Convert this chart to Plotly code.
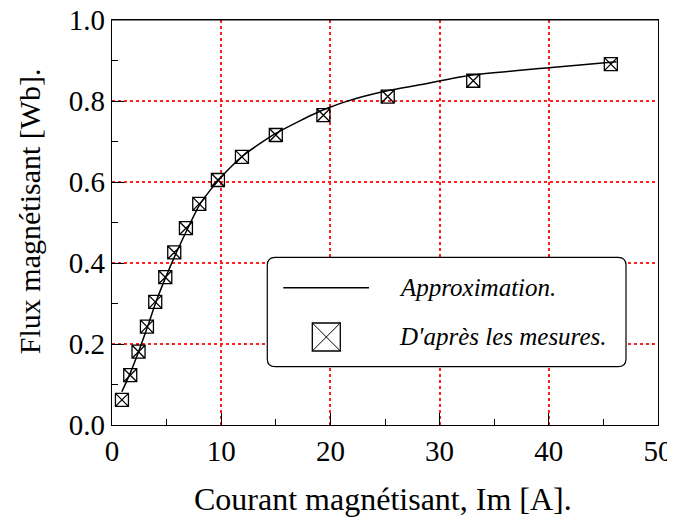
import plotly.graph_objects as go

# Measured points (D'après les mesures)
meas_x = [0.91, 1.67, 2.43, 3.2, 3.96, 4.88, 5.7, 6.77, 7.99, 9.7, 11.9, 15.0, 19.36, 25.25, 33.08, 45.68]
meas_y = [0.062, 0.123, 0.181, 0.243, 0.304, 0.365, 0.426, 0.486, 0.546, 0.605, 0.662, 0.716, 0.765, 0.811, 0.850, 0.891]

# Approximation curve
approx_x = [0.9, 1.7, 2.5, 3.3, 4.0, 5.0, 6.0, 7.0, 8.0, 9.0, 10.0, 11.0, 12.0, 13.5, 15.0, 17.2, 18.5, 20.0, 21.5, 23.0, 25.3, 28.2, 33.0, 40.0, 46.2]
approx_y = [0.082, 0.130, 0.186, 0.246, 0.302, 0.370, 0.432, 0.489, 0.543, 0.580, 0.612, 0.640, 0.665, 0.694, 0.720, 0.751, 0.768, 0.785, 0.799, 0.811, 0.826, 0.840, 0.864, 0.882, 0.897]

x_ticks = [0, 10, 20, 30, 40, 50]
y_ticks = [0.0, 0.2, 0.4, 0.6, 0.8, 1.0]

legend_labels = ["Approximation.", "D'après les mesures."]
x_title = "Courant magnétisant, Im [A]."
y_title = "Flux magnétisant [Wb]."

FONT = "Liberation Serif, Times New Roman, serif"

fig = go.Figure()
fig.add_trace(go.Scatter(x=approx_x, y=approx_y, mode="lines",
                         line=dict(color="black", width=1.5, shape="spline", smoothing=0.6),
                         showlegend=False))
fig.add_trace(go.Scatter(x=meas_x, y=meas_y, mode="markers",
                         marker=dict(symbol="square-x-open", size=13, color="black",
                                     line=dict(color="black", width=1.3)),
                         showlegend=False))

axis_common = dict(
    showline=True, linecolor="black", linewidth=1.2, mirror=True,
    ticks="inside", ticklen=12, tickwidth=1, tickcolor="black",
    showgrid=True, gridcolor="#ff2020", griddash="dot", gridwidth=1.5,
    zeroline=False, automargin=False, ticklabeloverflow="allow",
    tickfont=dict(family=FONT, size=29, color="black"),
)

# The page body adds an 8px offset; size the figure so the plot area lands at (112..658, 20..425)
fig.update_layout(
    width=667, height=511,
    margin=dict(l=104, r=17, t=12, b=94, autoexpand=False),
    paper_bgcolor="white", plot_bgcolor="white",
    font=dict(family=FONT, color="black"),
    xaxis=dict(range=[0, 50], tickvals=x_ticks, ticktext=[str(v) for v in x_ticks],
               minor=dict(ticks="inside", ticklen=6, dtick=5, tick0=0, tickcolor="black", showgrid=False),
               **axis_common),
    yaxis=dict(range=[0, 1.0], tickvals=y_ticks, ticktext=[f"{v:.1f}" for v in y_ticks],
               minor=dict(ticks="inside", ticklen=6, dtick=0.1, tick0=0, tickcolor="black", showgrid=False),
               **axis_common),
)

# top frame edge drawn as a thin filled bar
fig.add_shape(type="rect", xref="paper", yref="paper", x0=0, x1=1, y0=0.9985, y1=1.0025,
              fillcolor="black", line=dict(width=0), layer="above")

# Axis titles as annotations
fig.add_annotation(text=x_title, xref="paper", yref="paper", x=0.496, y=-0.1827,
                   xanchor="center", yanchor="middle", showarrow=False,
                   font=dict(family=FONT, size=32, color="black"))
fig.add_annotation(text=y_title, xref="paper", yref="paper", x=-0.152, y=0.528,
                   xanchor="center", yanchor="middle", showarrow=False, textangle=-90,
                   font=dict(family=FONT, size=30, color="black"))

# Rounded legend box
x0, x1, y0, y1 = 0.2844, 0.9414, 0.144, 0.414
rx, ry = 8 / 546, 8 / 405
path = (f"M {x0+rx},{y0} L {x1-rx},{y0} Q {x1},{y0} {x1},{y0+ry} "
        f"L {x1},{y1-ry} Q {x1},{y1} {x1-rx},{y1} "
        f"L {x0+rx},{y1} Q {x0},{y1} {x0},{y1-ry} "
        f"L {x0},{y0+ry} Q {x0},{y0} {x0+rx},{y0} Z")
fig.add_shape(type="path", path=path, xref="paper", yref="paper",
              line=dict(color="black", width=1.2), fillcolor="white", layer="above")
# legend line sample
fig.add_shape(type="line", xref="paper", yref="paper", x0=0.3137, x1=0.4707, y0=0.339, y1=0.339,
              line=dict(color="black", width=1.5), layer="above")
# legend marker sample (square with X)
mx, my = 0.3925, 0.2173
hx, hy = 14 / 546, 14 / 405
fig.add_shape(type="rect", xref="paper", yref="paper", x0=mx - hx, x1=mx + hx, y0=my - hy, y1=my + hy,
              line=dict(color="black", width=1.3), layer="above")
fig.add_shape(type="line", xref="paper", yref="paper", x0=mx - hx, x1=mx + hx, y0=my - hy, y1=my + hy,
              line=dict(color="black", width=1), layer="above")
fig.add_shape(type="line", xref="paper", yref="paper", x0=mx - hx, x1=mx + hx, y0=my + hy, y1=my - hy,
              line=dict(color="black", width=1), layer="above")
for txt, yy in zip(legend_labels, [0.339, 0.2173]):
    fig.add_annotation(text=f"<i>{txt}</i>", xref="paper", yref="paper", x=0.522, y=yy,
                       xanchor="left", yanchor="middle", showarrow=False,
                       font=dict(family=FONT, size=25, color="black"))

fig.write_html("out.html")
